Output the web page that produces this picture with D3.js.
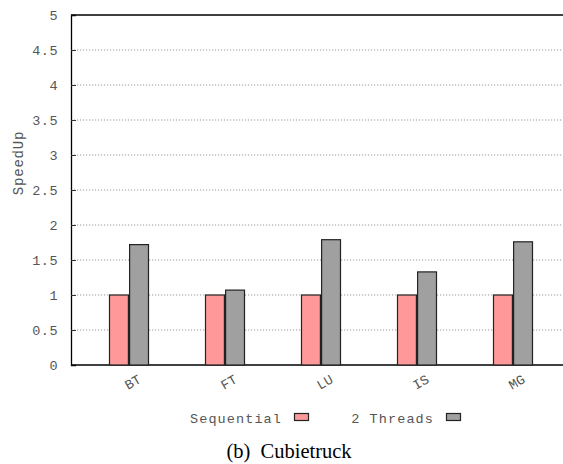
<!DOCTYPE html>
<html>
<head>
<meta charset="utf-8">
<script src="https://cdn.jsdelivr.net/npm/d3@7"></script>
<style>
  html, body { margin: 0; padding: 0; background: #fff; }
  svg { display: block; }
</style>
</head>
<body>
<svg id="chart" width="563" height="464"></svg>
<script>
// Benchmarks and measured speedups on the Cubietruck board
const categories = ["BT", "FT", "LU", "IS", "MG"];
const sequential = [1.0, 1.0, 1.0, 1.0, 1.0];
const twoThreads = [1.72, 1.07, 1.79, 1.33, 1.76];
const seriesNames = ["Sequential", "2 Threads"];
const seriesColors = ["#ff9999", "#a0a0a0"];
const yTicks = [0, 0.5, 1, 1.5, 2, 2.5, 3, 3.5, 4, 4.5, 5];

const svg = d3.select("#chart");
const plotLeft = 71, plotRight = 563, plotTop = 15, plotBottom = 365;
const mono = "'Liberation Mono', 'Courier New', monospace";
const textColor = "#555";

const y = d3.scaleLinear().domain([0, 5]).range([plotBottom, plotTop]);
const x = d3.scaleBand().domain(categories).range([81, 561]).padding(0);
const inner = d3.scaleBand().domain(seriesNames).range([0, 39]).paddingInner(0.06);

// dotted grid lines
svg.append("g")
  .selectAll("line")
  .data(yTicks.filter(t => t > 0 && t < 5))
  .join("line")
  .attr("x1", plotLeft).attr("x2", plotRight)
  .attr("y1", d => y(d)).attr("y2", d => y(d))
  .attr("stroke", "#999").attr("stroke-width", 1)
  .attr("stroke-dasharray", "1.2,1.8");

// y axis with inward ticks
const yAxis = svg.append("g")
  .attr("transform", `translate(${plotLeft},0)`)
  .call(d3.axisLeft(y).tickValues(yTicks).tickFormat(d3.format("")).tickSize(-5).tickPadding(13));
yAxis.select(".domain").attr("stroke", "#000").attr("stroke-width", 1.3);
yAxis.selectAll(".tick line").attr("stroke", "#333");
yAxis.selectAll(".tick text")
  .attr("font-family", mono).attr("font-size", 13.5).attr("fill", textColor)
  .attr("letter-spacing", 0.5);

// top border and baseline
svg.append("line").attr("x1", plotLeft).attr("x2", plotRight)
  .attr("y1", plotTop).attr("y2", plotTop).attr("stroke", "#000").attr("stroke-width", 1.3);
svg.append("line").attr("x1", plotLeft).attr("x2", plotRight)
  .attr("y1", plotBottom).attr("y2", plotBottom).attr("stroke", "#000").attr("stroke-width", 1.3);

// bars
const rows = categories.map((c, i) => ({ c, vals: [sequential[i], twoThreads[i]] }));
const groups = svg.append("g").selectAll("g")
  .data(rows).join("g")
  .attr("transform", d => `translate(${x(d.c) + x.bandwidth() / 2 - 19.5},0)`);
groups.selectAll("rect")
  .data(d => d.vals.map((v, k) => ({ v, k })))
  .join("rect")
  .attr("x", d => inner(seriesNames[d.k]))
  .attr("width", inner.bandwidth())
  .attr("y", d => y(d.v))
  .attr("height", d => plotBottom - y(d.v))
  .attr("fill", d => seriesColors[d.k])
  .attr("stroke", "#222").attr("stroke-width", 1.2);

// rotated category labels
svg.append("g").selectAll("text")
  .data(categories).join("text")
  .attr("transform", d => `translate(${x(d) + x.bandwidth() / 2 + 6},386) rotate(-30)`)
  .attr("text-anchor", "middle")
  .attr("font-family", mono).attr("font-size", 13.5).attr("fill", textColor)
  .text(d => d);

// y axis title
svg.append("text")
  .attr("transform", "translate(23,163) rotate(-90)")
  .attr("text-anchor", "middle")
  .attr("font-family", mono).attr("font-size", 14).attr("fill", textColor)
  .attr("letter-spacing", 0.8)
  .text("SpeedUp");

// legend
const legend = [
  { name: seriesNames[0], textEnd: 282, box: 294.5, color: seriesColors[0] },
  { name: seriesNames[1], textEnd: 434, box: 446.5, color: seriesColors[1] }
];
const lg = svg.append("g").selectAll("g").data(legend).join("g");
lg.append("text")
  .attr("x", d => d.textEnd).attr("y", 422.5)
  .attr("text-anchor", "end")
  .attr("font-family", mono).attr("font-size", 13.5).attr("fill", textColor)
  .attr("letter-spacing", 1.1)
  .text(d => d.name);
lg.append("rect")
  .attr("x", d => d.box).attr("y", 413.5).attr("width", 14).attr("height", 7)
  .attr("fill", d => d.color).attr("stroke", "#222").attr("stroke-width", 1.2);

// caption
svg.append("text")
  .attr("x", 289).attr("y", 458)
  .attr("text-anchor", "middle")
  .attr("font-family", "'Liberation Serif', 'Times New Roman', serif")
  .attr("font-size", 20.5).attr("fill", "#000")
  .attr("xml:space", "preserve")
  .style("white-space", "pre")
  .text("(b)  Cubietruck");
</script>
</body>
</html>
